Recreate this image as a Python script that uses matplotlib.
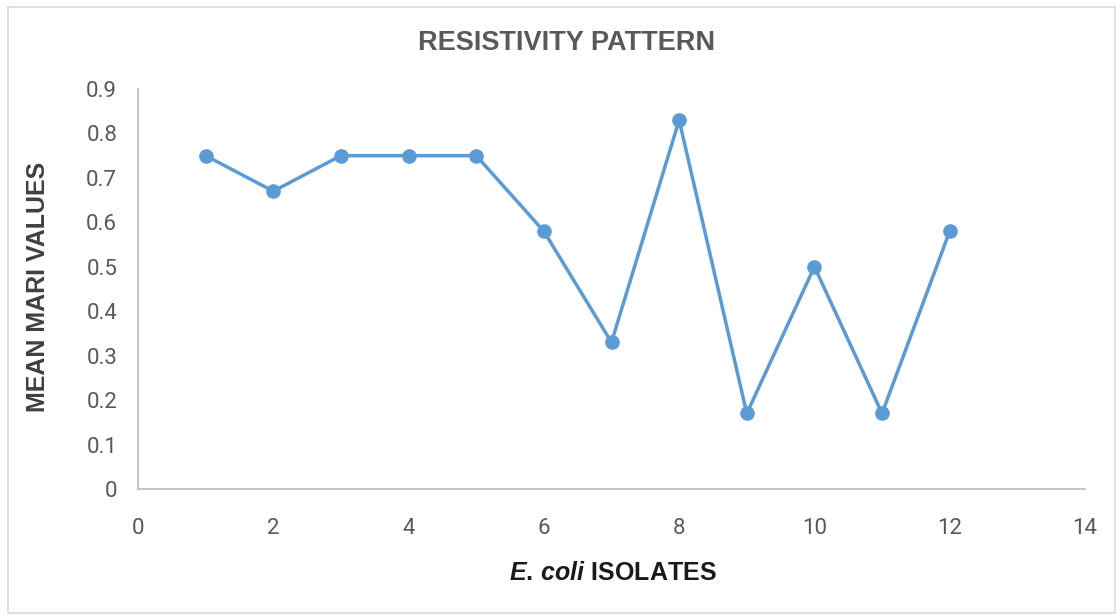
import matplotlib.pyplot as plt
from matplotlib.patches import Rectangle

#%% data
isolates = [1, 2, 3, 4, 5, 6, 7, 8, 9, 10, 11, 12]
mari = [0.75, 0.67, 0.75, 0.75, 0.75, 0.58, 0.33, 0.83, 0.17, 0.50, 0.17, 0.58]
xticks = [0, 2, 4, 6, 8, 10, 12, 14]
yticks = [0, 0.1, 0.2, 0.3, 0.4, 0.5, 0.6, 0.7, 0.8, 0.9]

#%% style
plt.rcParams['mathtext.fontset'] = 'custom'
plt.rcParams['mathtext.it'] = 'Liberation Sans:italic:bold'
plt.rcParams['mathtext.rm'] = 'Liberation Sans:bold'

#%% plot
W, H = 1117, 615
fig = plt.figure(figsize=(W / 100, H / 100), dpi=100)
fig.patches.append(Rectangle((8 / W, 2 / H), 1107 / W, 606 / H, transform=fig.transFigure,
                             fill=False, edgecolor='#d9d9d9', linewidth=1.2))

ax = fig.add_axes([138 / W, 1 - 489 / H, 947 / W, 400 / H])
ax.plot(isolates, mari, '-o', color='#5b9bd5', linewidth=2.5, markersize=9.5, clip_on=False)

ax.set_xlim(0, 14)
ax.set_ylim(0, 0.9)
ax.set_xticks(xticks)
ax.set_yticks(yticks)
ax.set_yticklabels(['0'] + [f'{v:.1f}' for v in yticks[1:]])
ax.tick_params(length=0, labelsize=16, labelcolor='#595959')
ax.tick_params(axis='y', pad=15)
ax.tick_params(axis='x', pad=21)
for lab in ax.get_xticklabels() + ax.get_yticklabels():
    lab.set_fontfamily('Roboto')

for s in ['top', 'right']:
    ax.spines[s].set_visible(False)
for s in ['left', 'bottom']:
    ax.spines[s].set_color('#bfbfbf')
    ax.spines[s].set_linewidth(1.3)

fig.text(567 / W, 1 - 43 / H, 'RESISTIVITY PATTERN', ha='center', va='center',
         fontsize=19.5, fontweight='bold', color='#595959', family='Liberation Sans')
fig.text(38 / W, 1 - 287 / H, 'MEAN MARI VALUES', ha='center', va='center', rotation=90,
         fontsize=18, fontweight='bold', color='#404040', family='Liberation Sans')
fig.text(613 / W, 1 - 573 / H, r'$\mathit{E.}$$\,$$\mathit{coli}$ ISOLATES', ha='center', va='center',
         fontsize=18, fontweight='bold', color='#1a1a1a', family='Liberation Sans')

fig.savefig('out.png', dpi=100)
